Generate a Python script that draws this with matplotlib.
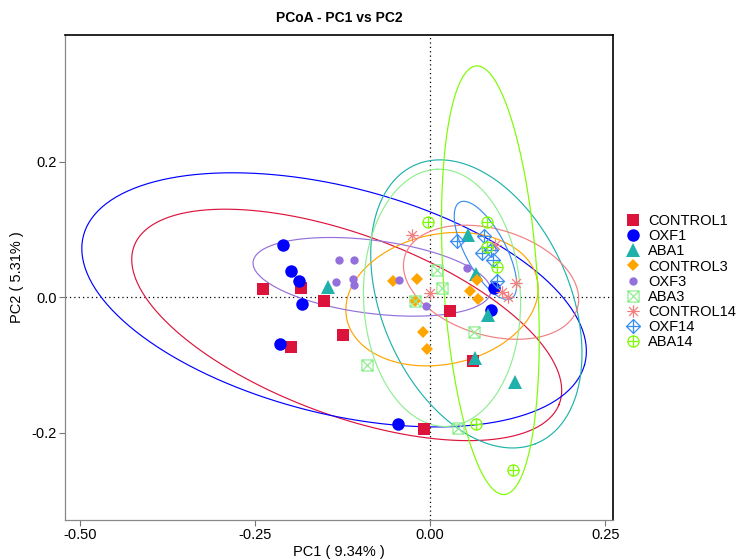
import numpy as np
import matplotlib
matplotlib.use("Agg")
import matplotlib.pyplot as plt
from matplotlib.path import Path
from matplotlib.lines import Line2D

plt.rcParams['font.family'] = ['Liberation Sans', 'DejaVu Sans']

groups = ['CONTROL1', 'OXF1', 'ABA1', 'CONTROL3', 'OXF3', 'ABA3',
          'CONTROL14', 'OXF14', 'ABA14']
colors = ['#DC143C', '#0000FF', '#20B2AA', '#FFA500', '#9370DB', '#90EE90',
          '#F08080', '#3A8EF0', '#7CFC00']

# sample coordinates on PC1 / PC2
control1_x = [-0.239, -0.184, -0.151, -0.124, -0.199, -0.009, 0.061, 0.029]
control1_y = [0.012, 0.013, -0.006, -0.056, -0.074, -0.195, -0.094, -0.021]
oxf1_x = [-0.210, -0.199, -0.187, -0.183, -0.214, -0.046, 0.091, 0.087]
oxf1_y = [0.077, 0.038, 0.024, -0.010, -0.069, -0.187, 0.013, -0.019]
aba1_x = [-0.146, 0.054, 0.066, 0.083, 0.064, 0.121]
aba1_y = [0.015, 0.092, 0.034, -0.027, -0.090, -0.125]
control3_x = [-0.053, -0.019, -0.021, -0.010, -0.004, 0.057, 0.067, 0.069]
control3_y = [0.024, 0.027, -0.006, -0.052, -0.077, 0.009, 0.025, -0.003]
oxf3_x = [-0.130, -0.109, -0.134, -0.110, -0.109, -0.044, -0.006, 0.053]
oxf3_y = [0.055, 0.055, 0.022, 0.027, 0.018, 0.025, -0.013, 0.043]
aba3_x = [0.010, -0.021, -0.090, 0.063, 0.017, 0.040]
aba3_y = [0.040, -0.006, -0.100, -0.052, 0.013, -0.193]
control14_x = [-0.026, 0.000, 0.093, 0.103, 0.111, 0.123]
control14_y = [0.092, 0.006, 0.077, 0.007, 0.000, 0.021]
oxf14_x = [0.039, 0.077, 0.074, 0.087, 0.090, 0.096]
oxf14_y = [0.083, 0.090, 0.065, 0.069, 0.055, 0.024]
aba14_x = [-0.003, 0.081, 0.081, 0.096, 0.066, 0.119]
aba14_y = [0.111, 0.111, 0.074, 0.044, -0.187, -0.255]

# ellipse per group: centre x, centre y, semi-major, semi-minor, angle (deg)
ell_cx = [-0.119, -0.137, 0.066, 0.017, -0.083, 0.017, 0.087, 0.079, 0.086]
ell_cy = [-0.041, -0.004, -0.010, -0.003, 0.030, -0.001, 0.022, 0.069, 0.025]
ell_a = [0.325, 0.370, 0.223, 0.139, 0.171, 0.190, 0.129, 0.080, 0.317]
ell_b = [0.133, 0.167, 0.135, 0.096, 0.054, 0.112, 0.078, 0.029, 0.067]
ell_ang = [-21.2, -15.0, -67.8, 12.7, -7.6, 92.0, -18.0, -63.0, -86.4]

xs = [control1_x, oxf1_x, aba1_x, control3_x, oxf3_x, aba3_x,
      control14_x, oxf14_x, aba14_x]
ys = [control1_y, oxf1_y, aba1_y, control3_y, oxf3_y, aba3_y,
      control14_y, oxf14_y, aba14_y]


def lines_path(segs):
    verts, codes = [], []
    for (x0, y0), (x1, y1) in segs:
        verts += [(x0, y0), (x1, y1)]
        codes += [Path.MOVETO, Path.LINETO]
    return Path(verts, codes)


# open symbols: square with cross, asterisk, diamond with plus, circle with plus
sq = Path([(-1, -1), (1, -1), (1, 1), (-1, 1), (-1, -1)])
box_x = Path.make_compound_path(sq, lines_path([((-1, -1), (1, 1)), ((-1, 1), (1, -1))]))
asterisk = lines_path([((-1, 0), (1, 0)), ((0, -1), (0, 1)),
                       ((-0.71, -0.71), (0.71, 0.71)), ((-0.71, 0.71), (0.71, -0.71))])
dia = Path([(0, -1), (1, 0), (0, 1), (-1, 0), (0, -1)])
plus = lines_path([((-1, 0), (1, 0)), ((0, -1), (0, 1))])
dia_plus = Path.make_compound_path(dia, plus)
circ_plus = Path.make_compound_path(Path.unit_circle(), plus)

markers = ['s', 'o', '^', 'D', 'o', box_x, asterisk, dia_plus, circ_plus]
msizes = [9, 9, 10, 6, 6, 8, 9, 10, 8]
filled = [True, True, True, True, True, False, False, False, False]

fig = plt.figure(figsize=(7.41, 5.6), dpi=100)
ax = fig.add_axes([65 / 741, 1 - 520 / 560, 548 / 741, 485 / 560])

ax.axhline(0, color='black', lw=0.9, ls=(0, (1, 2.5)), zorder=1)
ax.axvline(0, color='black', lw=0.9, ls=(0, (1, 2.5)), zorder=1)

t = np.linspace(0, 2 * np.pi, 300)
for i in range(len(groups)):
    th = np.deg2rad(ell_ang[i])
    ex = ell_cx[i] + ell_a[i] * np.cos(t) * np.cos(th) - ell_b[i] * np.sin(t) * np.sin(th)
    ey = ell_cy[i] + ell_a[i] * np.cos(t) * np.sin(th) + ell_b[i] * np.sin(t) * np.cos(th)
    ax.plot(ex, ey, color=colors[i], lw=0.85, zorder=2)

handles = []
for i in range(len(groups)):
    if filled[i]:
        kw = dict(mfc=colors[i], mec=colors[i], mew=0)
    else:
        kw = dict(mfc='none', mec=colors[i], mew=0.9)
    ax.plot(xs[i], ys[i], ls='none', marker=markers[i], ms=msizes[i], zorder=3, **kw)
    handles.append(Line2D([], [], ls='none', marker=markers[i], ms=msizes[i], **kw))

ax.set_xlim(-0.521, 0.261)
ax.set_ylim(-0.329, 0.387)
ax.set_xticks([-0.5, -0.25, 0.0, 0.25])
ax.set_xticklabels(['-0.50', '-0.25', '0.00', '0.25'])
ax.set_yticks([-0.2, 0.0, 0.2])
ax.set_yticklabels(['-0.2', '0.0', '0.2'])
ax.tick_params(labelsize=10.5, length=4, width=0.8, color='#777777', pad=2)

for s in ['left', 'bottom']:
    ax.spines[s].set_color('#888888')
    ax.spines[s].set_linewidth(0.9)
for s in ['top', 'right']:
    ax.spines[s].set_color('black')
    ax.spines[s].set_linewidth(1.2)

ax.set_xlabel('PC1 ( 9.34% )', fontsize=10.5, labelpad=2)
ax.set_ylabel('PC2 ( 5.31% )', fontsize=10.5, labelpad=5)
ax.set_title('PCoA - PC1 vs PC2', fontsize=10, fontweight='bold', pad=9)

fig.legend(handles, groups, loc='center left', bbox_to_anchor=(0.835, 0.497),
           frameon=False, fontsize=10.5, handlelength=1.0, handletextpad=0.5,
           labelspacing=0.08, borderpad=0)

fig.savefig('out.png', dpi=100)
